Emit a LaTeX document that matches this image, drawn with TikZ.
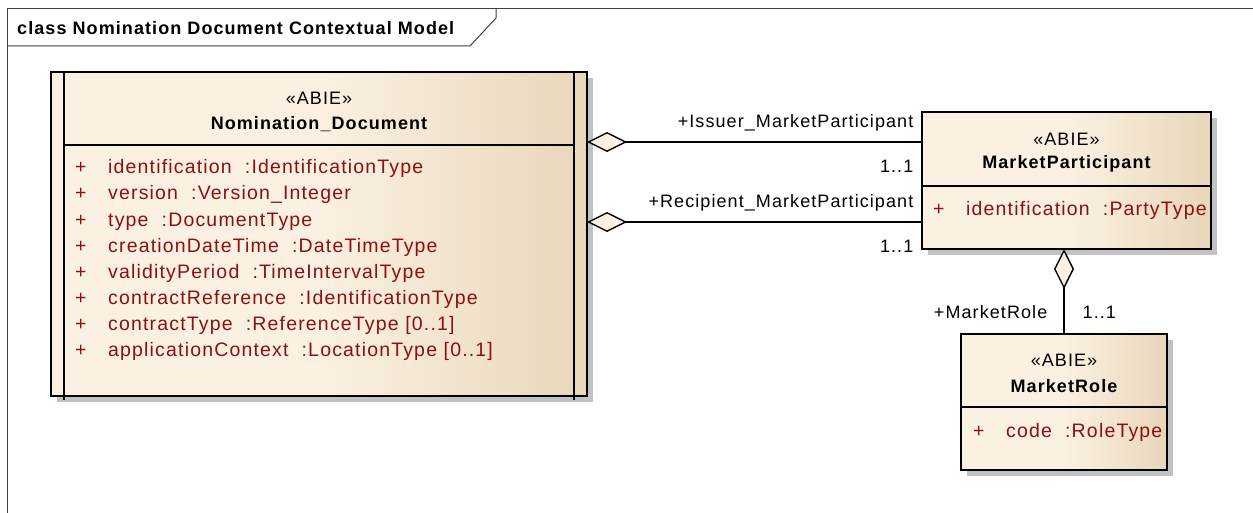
\documentclass[tikz,border=0pt]{standalone}
\usepackage{fontspec}
\setmainfont{Liberation Sans}[LetterSpace=6]
\usetikzlibrary{arrows.meta,positioning,shadows}
\definecolor{abieL}{RGB}{251,241,226}
\definecolor{abieR}{RGB}{232,214,186}
\definecolor{attrred}{RGB}{140,16,16}
\definecolor{shadowgray}{RGB}{194,194,194}
\newcommand{\eafont}{\fontsize{18}{22}\selectfont}
\newcommand{\attrfont}{\fontsize{19.5}{23}\selectfont}
\tikzstyle{abie} = [rectangle, draw, line width=1.4pt, outer sep=0pt,
    left color=abieL, right color=abieR, middle color=abieL,
    drop shadow={shadow xshift=6pt, shadow yshift=-6pt, fill=shadowgray, opacity=1}]
\tikzstyle{frame} = [draw=black!75, line width=1pt]
\tikzstyle{title} = [font=\eafont\bfseries, inner sep=0pt]
\tikzstyle{stereo} = [font=\eafont, inner sep=0pt]
\tikzstyle{clsname} = [font=\eafont\bfseries, inner sep=0pt]
\tikzstyle{attr} = [font=\attrfont, text=attrred, inner sep=0pt, anchor=base west]
\tikzstyle{role} = [font=\eafont, inner sep=0pt]
\tikzstyle{line} = [draw, line width=1.4pt]
\tikzstyle{aggr} = [line, -{Diamond[length=40pt, width=20pt, fill=abieL]}]

\begin{document}
\begin{tikzpicture}[x=1pt,y=-1pt]
    \useasboundingbox (0,0) rectangle (1253,513);
    \clip (0,0) rectangle (1253,513);

    % diagram frame
    \draw[frame] (1260,9) -- (7,9) -- (7,520);
    \draw[frame] (7,46) -- (470,46) -- (496,18) -- (496,9);
    \node[title, anchor=base west] (frametitle) at (17,35) {class Nomination Document Contextual Model};

    % Nomination_Document
    \node[abie, minimum width=536pt, minimum height=324pt] (doc) at (319,234) {};
    \draw[line] ([xshift=13pt]doc.north west) -- ([shift={(13pt,-4pt)}]doc.south west);
    \draw[line] ([xshift=-13pt]doc.north east) -- ([shift={(-13pt,-4pt)}]doc.south east);
    \draw[line] ([shift={(13pt,-73pt)}]doc.north west) -- ([shift={(-13pt,-73pt)}]doc.north east);
    \node[stereo] (docst) at (319,98) {«ABIE»};
    \node[clsname, below of=docst, node distance=26pt] (docname) {Nomination\_Document};
    \foreach \n/\t [count=\i] in {identification/IdentificationType, version/Version\_Integer,
        type/DocumentType, creationDateTime/DateTimeType, validityPeriod/TimeIntervalType,
        contractReference/IdentificationType, contractType/{ReferenceType [0..1]},
        applicationContext/{LocationType [0..1]}}
        \node[attr] (docattr\i) at (75,148+26*\i) {\makebox[33pt][l]{+}\n~~:\t};

    % MarketParticipant
    \node[abie, minimum width=289pt, minimum height=137pt] (mp) at (1066.5,180.5) {};
    \draw[line] ([yshift=-74pt]mp.north west) -- ([yshift=-74pt]mp.north east);
    \node[stereo] (mpst) at (1066.5,139) {«ABIE»};
    \node[clsname, below of=mpst, node distance=25pt] (mpname) {MarketParticipant};
    \node[attr] (mpattr) at (933,215) {\makebox[33pt][l]{+}identification~~:PartyType};

    % MarketRole
    \node[abie, minimum width=206pt, minimum height=136pt] (mr) at (1064,402) {};
    \draw[line] ([yshift=-73pt]mr.north west) -- ([yshift=-73pt]mr.north east);
    \node[stereo] (mrst) at (1064,360) {«ABIE»};
    \node[clsname, below of=mrst, node distance=26pt] (mrname) {MarketRole};
    \node[attr] (mrattr) at (973,437) {\makebox[33pt][l]{+}code~~:RoleType};

    % Draw edges
    \coordinate (issuerend) at ([yshift=38.5pt]mp.west);
    \coordinate (recipend) at ([yshift=-41.5pt]mp.west);
    \path [aggr] (issuerend)
        node[role, above left=10pt and 8pt] (issrole) {+Issuer\_MarketParticipant}
        node[role, below left=17pt and 8pt] (issmult) {1..1}
        -- (doc.east |- issuerend);
    \path [aggr] (recipend)
        node[role, above left=10pt and 8pt] (reciprole) {+Recipient\_MarketParticipant}
        node[role, below left=17pt and 8pt] (recipmult) {1..1}
        -- (doc.east |- recipend);
    \path [aggr] (mr.north)
        node[role, above left=14.5pt and 16pt] (mrrole) {+MarketRole}
        node[role, above right=14.5pt and 18pt] (mrmult) {1..1}
        -- (mp.south -| mr.north);

\end{tikzpicture}
\end{document}
